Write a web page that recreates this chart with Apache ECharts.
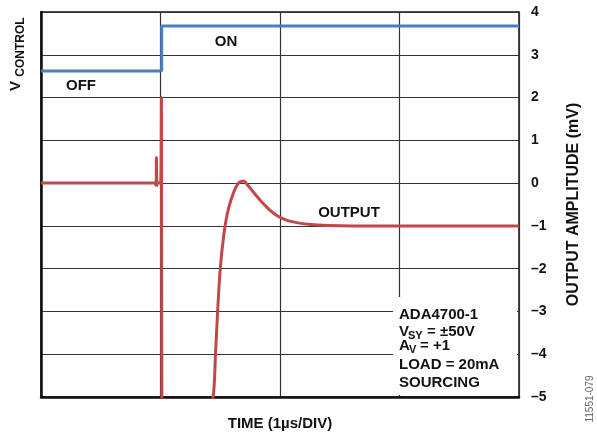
<!DOCTYPE html>
<html>
<head>
<meta charset="utf-8">
<script src="https://cdn.jsdelivr.net/npm/echarts@6/dist/echarts.min.js"></script>
<style>
html,body{margin:0;padding:0;background:#fff;}
#chart{width:597px;height:433px;}
</style>
</head>
<body>
<div id="chart"></div>
<script>
// Time in divisions, amplitude in mV
const controlTime = [0, 1.01, 1.01, 4];
const controlValue = [2.62, 2.62, 3.67, 3.67];

const outputTime = [0, 0.95, 0.962, 0.966, 0.97, 0.975, 1.0, 1.008, 1.012, 1.2, 1.44, 1.46, 1.478, 1.5, 1.53, 1.56, 1.595, 1.63, 1.66, 1.695, 1.73, 1.78, 1.84, 1.91, 1.98, 2.06, 2.15, 2.26, 2.4, 2.6, 3.0, 4.0];
const outputValue = [0, 0, -0.05, 0.6, -0.05, 0, 0, 2, -5.6, -9, -5.0, -4.0, -3.0, -2.0, -1.2, -0.7, -0.35, -0.1, 0.02, 0.05, -0.05, -0.22, -0.42, -0.62, -0.77, -0.87, -0.93, -0.97, -0.99, -1.0, -1.0, -1.0];

const yTicks = [-5, -4, -3, -2, -1, 0, 1, 2, 3, 4];

const FONT = 'Liberation Sans, Arial, sans-serif';
const chart = echarts.init(document.getElementById('chart'));

function zip(a, b) { return a.map((v, i) => [v, b[i]]); }

function txt(x, y, text, size, opts) {
  return Object.assign({
    type: 'text', x: x, y: y, z: 200,
    style: Object.assign({text: text, font: 'bold ' + size + 'px ' + FONT, fill: '#111',
      align: 'left', verticalAlign: 'middle'}, opts && opts.style || {})
  }, opts && opts.el || {});
}

chart.setOption({
  animation: false,
  backgroundColor: '#fff',
  grid: {left: 41, right: 78, top: 12, bottom: 36, show: true, borderColor: '#111', borderWidth: 1.5,
    backgroundColor: 'transparent', outerBoundsMode: 'none', containLabel: false},
  xAxis: {
    type: 'value', min: 0, max: 4, interval: 1,
    axisLine: {show: true, onZero: false, lineStyle: {color: '#111', width: 2.5}},
    axisTick: {show: false}, axisLabel: {show: false},
    splitLine: {show: true, lineStyle: {color: '#333', width: 1.2}},
    name: 'TIME (1µs/DIV)', nameLocation: 'middle', nameGap: 19,
    nameTextStyle: {fontFamily: FONT, fontWeight: 'bold', fontSize: 15, color: '#111'}
  },
  yAxis: {
    type: 'value', position: 'right', min: -5, max: 4, interval: 1,
    axisLine: {show: true, lineStyle: {color: '#111', width: 2.5}},
    axisTick: {show: false},
    axisLabel: {
      margin: 12, fontFamily: FONT, fontWeight: 'bold', fontSize: 14, color: '#111',
      formatter: v => (v < 0 ? '\u2013' + Math.abs(v) : String(v))
    },
    splitLine: {show: true, lineStyle: {color: '#333', width: 1.2}},
    name: 'OUTPUT AMPLITUDE (mV)', nameLocation: 'middle', nameGap: 47, nameRotate: 90,
    nameTextStyle: {fontFamily: FONT, fontWeight: 'bold', fontSize: 16, color: '#111'}
  },
  series: [
    {
      type: 'line', data: zip(controlTime, controlValue), showSymbol: false, symbol: 'none',
      lineStyle: {color: '#4a7ebf', width: 3}, z: 5
    },
    {
      type: 'line', data: zip(outputTime, outputValue), showSymbol: false, symbol: 'none',
      smooth: 0.3, clip: true,
      lineStyle: {color: '#c0484a', width: 3}, z: 6
    }
  ],
  graphic: [
    {type: 'rect', z: 150, shape: {x: 393, y: 297, width: 124, height: 98}, style: {fill: '#fff'}},
    txt(399, 315, 'ADA4700-1', 15),
    txt(399, 332, 'V', 15),
    txt(408, 336, 'SY', 11),
    txt(427, 332, '= ±50V', 15),
    txt(399, 346, 'A', 15),
    txt(409, 350, 'V', 11),
    txt(420, 346, '= +1', 15),
    txt(399, 365, 'LOAD = 20mA', 15),
    txt(399, 383, 'SOURCING', 15),
    txt(226, 42, 'ON', 15, {style: {align: 'center'}}),
    txt(81, 86, 'OFF', 15, {style: {align: 'center'}}),
    txt(349, 213, 'OUTPUT', 15, {style: {align: 'center'}}),
    txt(16, 86, 'V', 15, {style: {align: 'center'}, el: {rotation: Math.PI / 2}}),
    txt(21, 47, 'CONTROL', 12, {style: {align: 'center'}, el: {rotation: Math.PI / 2}}),
    {type: 'text', x: 590, y: 399, rotation: Math.PI / 2, z: 200,
      style: {text: '11551-079', font: '10px ' + FONT, fill: '#666', align: 'center', verticalAlign: 'middle'}}
  ]
});
</script>
</body>
</html>
